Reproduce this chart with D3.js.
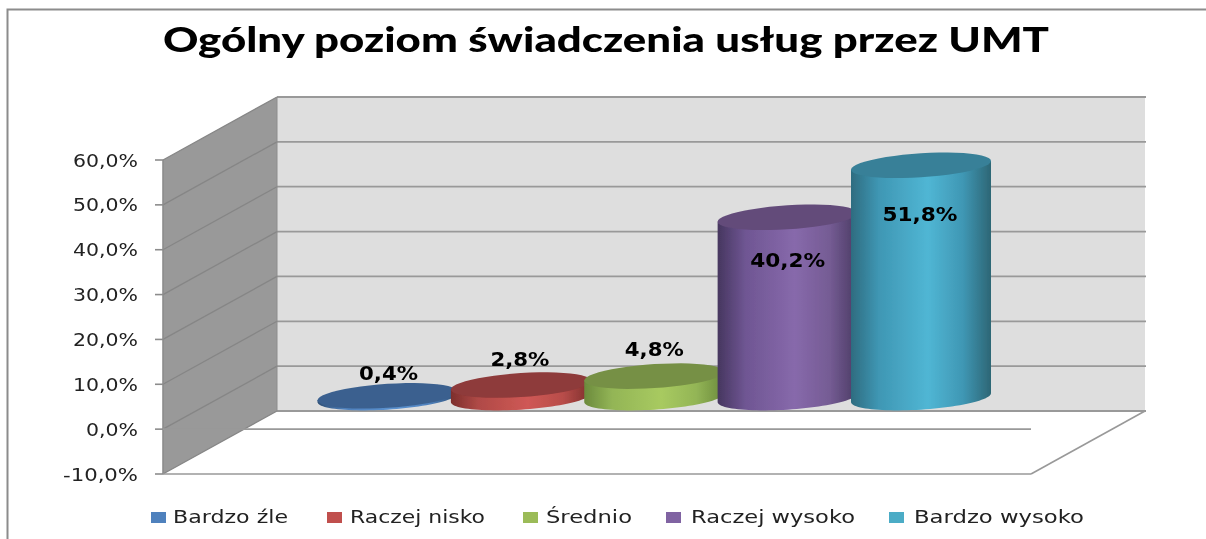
<!DOCTYPE html>
<html><head><meta charset="utf-8">
<style>html,body{margin:0;padding:0;background:#fff}svg{display:block}text{font-family:Lato,"Open Sans",sans-serif}</style>
<script src="https://cdn.jsdelivr.net/npm/d3@7"></script>
</head><body><svg id="c" width="1206" height="539"></svg>
<script>
const titleText = "Ogólny poziom świadczenia usług przez UMT";
const categories = ["Bardzo źle","Raczej nisko","Średnio","Raczej wysoko","Bardzo wysoko"];
const values = [0.4,2.8,4.8,40.2,51.8];
const valueLabels = ["0,4%","2,8%","4,8%","40,2%","51,8%"];
const axisTicks = [-10,0,10,20,30,40,50,60];
const axisTickLabels = ["-10,0%","0,0%","10,0%","20,0%","30,0%","40,0%","50,0%","60,0%"];

// styling per series
const topColors = ["#3b618f","#8e3a3a","#769045","#634b7a","#378098"];
const swatchColors = ["#4f81bd","#c0504d","#9bbb59","#8064a2","#4bacc6"];
const sideStops = [
  ["#2f4f75","#4f81bd","#5b92d0","#4f81bd","#2f4f75"],
  ["#7d2e2c","#b04a47","#cf5855","#b84d4a","#7d2e2c"],
  ["#6b8a3c","#93b556","#a8ca60","#93b556","#6b8a3c"],
  ["#46365f","#6f5693","#8769ab","#755c94","#4a3a63"],
  ["#2e6c80","#3f97b4","#50b6d4","#3f97b4","#2d6675"]
];
const stopOffsets = [0,0.2,0.55,0.8,1];
const labelDx = [1,-1,0,0,-1];
const labelDy = [-16,-19,-20,50,56];
const labelW = [59,59,59,75,75];
const legendSwatchX = [151,327,523,666,889];
const legendTextX = [173,350,546,691,914];
const legendTextW = [115,135,86,164,170];
const tickLabelW = [75,52,65,65,65,65,65,65];

const svg = d3.select("#c");
const defs = svg.append("defs");
defs.append("filter").attr("id","soft").attr("filterUnits","userSpaceOnUse")
  .attr("x",-20).attr("y",-20).attr("width",1246).attr("height",579)
  .append("feGaussianBlur").attr("stdDeviation",0.45);
const root = svg.append("g").attr("filter","url(#soft)");

const y = d3.scaleLinear().domain([-10,60]).range([474,160]);
const x = d3.scalePoint().domain(categories).range([387.5,921]);
const depth = {dx:114, dy:-63};
const floorRight = 1031, wallLeft = 163;
const rx = 70, ry = 12, shear = 4.4, baseShift = -31.5;

// background extends past the page so the soft edge does not show
root.append("rect").attr("x",-20).attr("y",-20).attr("width",1246).attr("height",579).attr("fill","#fff");
// outer frame
root.append("path").attr("d","M7.5,560V9.5H1230").attr("fill","none").attr("stroke","#8c8c8c").attr("stroke-width",2);

// title
root.append("text").attr("x",163).attr("y",52).attr("textLength",886).attr("lengthAdjust","spacingAndGlyphs")
  .attr("font-size",33.5).attr("font-weight",900).attr("fill","#000").text(titleText);

// back wall
const bx = wallLeft+depth.dx, bxr = floorRight+depth.dx;
root.append("rect").attr("x",bx).attr("y",y(60)+depth.dy).attr("width",bxr-bx).attr("height",y(-10)-y(60)).attr("fill","#dedede");
// floor
root.append("path").attr("d",`M${wallLeft},${y(-10)}L${bx},${y(-10)+depth.dy}H${bxr}L${floorRight},${y(-10)}Z`).attr("fill","#fff");
// side wall
root.append("path").attr("d",`M${wallLeft},${y(60)}L${bx},${y(60)+depth.dy}V${y(-10)+depth.dy}L${wallLeft},${y(-10)}Z`).attr("fill","#999");
// grid lines
axisTicks.forEach(t=>{
  root.append("line").attr("x1",bx).attr("x2",bxr+1).attr("y1",y(t)+depth.dy).attr("y2",y(t)+depth.dy).attr("stroke","#999").attr("stroke-width",1.8);
  root.append("line").attr("x1",wallLeft).attr("x2",bx).attr("y1",y(t)).attr("y2",y(t)+depth.dy).attr("stroke","#868686").attr("stroke-width",1.3);
  root.append("line").attr("x1",155).attr("x2",wallLeft).attr("y1",y(t)).attr("y2",y(t)).attr("stroke","#8c8c8c").attr("stroke-width",1.6);
});
root.append("line").attr("x1",bx).attr("x2",bx).attr("y1",y(60)+depth.dy).attr("y2",y(-10)+depth.dy).attr("stroke","#8c8c8c").attr("stroke-width",1);
root.append("line").attr("x1",wallLeft).attr("x2",wallLeft).attr("y1",y(60)).attr("y2",y(-10)).attr("stroke","#8c8c8c").attr("stroke-width",1.6);
// floor front lines and right edge
[0,-10].forEach(t=>root.append("line").attr("x1",wallLeft).attr("x2",floorRight).attr("y1",y(t)).attr("y2",y(t)).attr("stroke","#999").attr("stroke-width",1.7));
root.append("line").attr("x1",floorRight).attr("x2",bxr).attr("y1",y(-10)).attr("y2",y(-10)+depth.dy).attr("stroke","#999").attr("stroke-width",1.6);

// axis labels
root.append("g").selectAll("text").data(axisTicks).join("text")
  .attr("x",(t,i)=>138-tickLabelW[i]).attr("y",t=>y(t)+6.5)
  .style("font-family","'DejaVu Sans'").attr("font-size",17).attr("fill","#222")
  .attr("textLength",(t,i)=>tickLabelW[i]).attr("lengthAdjust","spacingAndGlyphs")
  .text((t,i)=>axisTickLabels[i]);

// cylinders
categories.forEach((c,i)=>{
  const g = defs.append("linearGradient").attr("id","g"+i);
  stopOffsets.forEach((o,k)=>g.append("stop").attr("offset",o).attr("stop-color",sideStops[i][k]));
});
const ell = (cx,cy,from,to)=>{
  const pts=[];
  for(let k=0;k<=48;k++){const t=from+(to-from)*k/48;pts.push([cx+rx*Math.cos(t),cy+ry*Math.sin(t)-shear*Math.cos(t)]);}
  return pts;
};
const line = d3.line();
categories.forEach((c,i)=>{
  const cx = x(c), bot = y(0)+baseShift, top = y(values[i])+baseShift;
  const lower = ell(cx,bot,Math.PI,0); // from left, through bottom, to right
  const rightTop=[cx+rx,top-shear], leftTop=[cx-rx,top+shear];
  root.append("path").attr("d",line([leftTop,...lower,rightTop])+"Z").attr("fill",`url(#g${i})`);
  root.append("path").attr("d",line(ell(cx,top,0,2*Math.PI))+"Z").attr("fill",topColors[i]);
});
// value labels
root.append("g").selectAll("text").data(values).join("text")
  .attr("x",(v,i)=>x(categories[i])+labelDx[i]-labelW[i]/2)
  .attr("y",(v,i)=>y(v)+baseShift+labelDy[i])
  .style("font-family","'DejaVu Sans'")
  .attr("font-size",19).attr("font-weight",700).attr("fill","#000")
  .attr("textLength",(v,i)=>labelW[i]).attr("lengthAdjust","spacingAndGlyphs")
  .text((v,i)=>valueLabels[i]);

// legend
const lg = root.append("g");
categories.forEach((c,i)=>{
  lg.append("rect").attr("x",legendSwatchX[i]).attr("y",512).attr("width",15).attr("height",11).attr("fill",swatchColors[i]);
  lg.append("text").attr("x",legendTextX[i]).attr("y",523).style("font-family","'DejaVu Sans'")
    .attr("font-size",17.5).attr("fill","#222").attr("textLength",legendTextW[i]).attr("lengthAdjust","spacingAndGlyphs").text(c);
});
</script></body></html>
